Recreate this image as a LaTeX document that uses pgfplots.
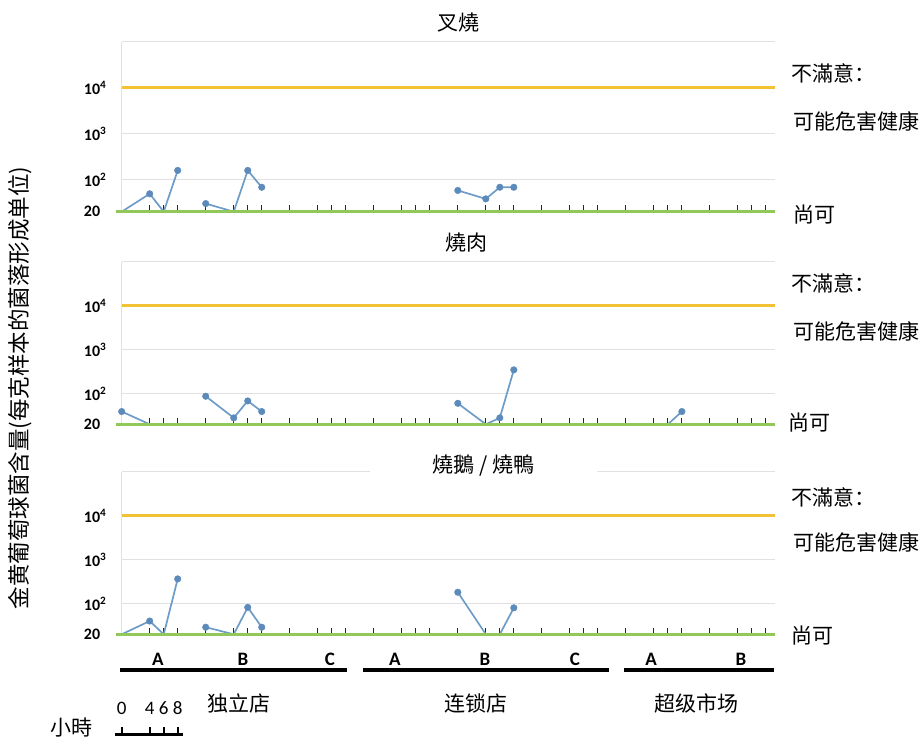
\documentclass[border=0pt]{standalone}
\usepackage{fontspec}
\setmainfont{Carlito}
\newfontfamily\cjk{Noto Sans CJK SC}
\usepackage{pgfplots}
\usepackage{pgfplotstable}
\pgfplotsset{compat=1.18}

\definecolor{lineblue}{RGB}{110,156,200}
\definecolor{markblue}{RGB}{92,138,187}
\definecolor{goldline}{RGB}{242,194,52}
\definecolor{greenline}{RGB}{146,200,90}
\definecolor{gridgray}{RGB}{225,225,225}

% ---- 叉燒 ----
\pgfplotstableread{
x y
0 20
4 49
6 20
8 158
nan nan
12 30
16 20
18 158
20 68
nan nan
48 58
52 38
54 68
56 68
}\lineA
\pgfplotstableread{
x y
4 49
8 158
12 30
18 158
20 68
48 58
52 38
54 68
56 68
}\markA
% ---- 燒肉 ----
\pgfplotstableread{
x y
0 39
4 20
nan nan
12 87
16 28
18 68
20 39
nan nan
48 60
52 20
54 28
56 346
nan nan
78 20
80 39
}\lineB
\pgfplotstableread{
x y
0 39
12 87
16 28
18 68
20 39
48 60
54 28
56 346
80 39
}\markB
% ---- 燒鵝 / 燒鴨 ----
\pgfplotstableread{
x y
0 20
4 40
6 20
8 364
nan nan
12 29
16 20
18 82
20 29
nan nan
48 181
52 20
54 20
56 80
}\lineC
\pgfplotstableread{
x y
4 40
8 364
12 29
18 82
20 29
48 181
56 80
}\markC

\newcommand\panelopts{ymode=log, scale only axis, width=653.3bp, anchor=south west,
    xmin=0, xmax=93.3, ymin=20, ymax=1e5,
    clip=false, unbounded coords=jump,
    axis line style={draw=none},
    xtick={0,4,6,8,12,16,18,20,24,28,30,32,36,40,42,44,48,52,54,56,60,64,66,68,72,76,78,80,84,88,90,92},
    xticklabels={}, xtick pos=left, tick align=inside,
    major tick length=6.5bp, xtick style={draw=black!85, line width=1bp},
    xminorticks=false, yminorticks=false,
    ytick={20,100,1000,10000,100000},
    yticklabels={\textbf{20},\textbf{10\textsuperscript{2}},\textbf{10\textsuperscript{3}},\textbf{10\textsuperscript{4}},{}},
    ytick style={draw=none},
    ymajorgrids, major grid style={gridgray, line width=1bp},
    yticklabel style={anchor=west, xshift=-38bp, inner sep=0pt, font=\fontsize{16bp}{18bp}\selectfont}}

\newcommand\panelcontent[2]{%
  \draw[gridgray, line width=1bp] (rel axis cs:0,0) -- (rel axis cs:0,1);
  \addplot[lineblue, line width=1.7bp, no marks] table {#1};
  \addplot[greenline, line width=3bp, no marks] coordinates {(-0.8,20) (93.3,20)};
  \addplot[goldline, line width=3.5bp, no marks] coordinates {(0,10000) (93.3,10000)};
  \addplot[only marks, mark=*, mark size=3.3bp, mark options={fill=markblue, draw=markblue}] table {#2};
}

\begin{document}
\begin{tikzpicture}[x=1bp, y=1bp]
\path[use as bounding box] (0,0) rectangle (923,737);

\edef\tmp{\noexpand\begin{axis}[\unexpanded\expandafter{\panelopts}, at={(121.7bp,525.3bp)}, height=170bp]}
\tmp
\panelcontent{\lineA}{\markA}
\end{axis}
\edef\tmp{\noexpand\begin{axis}[\unexpanded\expandafter{\panelopts}, at={(121.7bp,312.7bp)}, height=162.6bp]}
\tmp
\panelcontent{\lineB}{\markB}
\end{axis}
\edef\tmp{\noexpand\begin{axis}[\unexpanded\expandafter{\panelopts}, at={(121.7bp,102.7bp)}, height=162.6bp]}
\tmp
\panelcontent{\lineC}{\markC}
\end{axis}

% titles
\node[fill=white, minimum width=90bp, minimum height=37bp, inner sep=0pt, font=\cjk\fontsize{21bp}{24bp}\selectfont] at (458,714) {叉燒};
\node[fill=white, inner sep=2pt, font=\cjk\fontsize{21bp}{24bp}\selectfont] at (466,494) {燒肉};
\node[fill=white, minimum width=227bp, minimum height=30bp, inner sep=0pt, font=\cjk\fontsize{21bp}{24bp}\selectfont] at (483.5,271) {燒鵝 / 燒鴨};

% right labels
\begin{scope}[every node/.style={anchor=west, inner sep=0pt, font=\cjk\fontsize{21bp}{24bp}\selectfont}]
\node at (791,664) {不滿意：};
\node at (793,615.3) {可能危害健康};
\node at (793,522) {尚可};
\node at (791,454) {不滿意：};
\node at (793,405.3) {可能危害健康};
\node at (788,314) {尚可};
\node at (791,240) {不滿意：};
\node at (793,195) {可能危害健康};
\node at (791,101) {尚可};
\end{scope}

% y label
\node[rotate=90, inner sep=0pt, font=\cjk\fontsize{22.5bp}{24bp}\selectfont] at (20,349) {金黄葡萄球菌含量(每克样本的菌落形成单位)};

% store bars and letters
\draw[black, line width=4.5bp] (120,67) -- (347,67);
\draw[black, line width=4.5bp] (363,67) -- (609,67);
\draw[black, line width=4.5bp] (624,67) -- (774,67);
\begin{scope}[every node/.style={inner sep=0pt, font=\bfseries\fontsize{19bp}{21bp}\selectfont}]
\node at (158,78) {A};
\node at (243,78) {B};
\node at (330,78) {C};
\node at (395,78) {A};
\node at (485,78) {B};
\node at (575,78) {C};
\node at (651,78) {A};
\node at (741,78) {B};
\end{scope}

% group names
\begin{scope}[every node/.style={inner sep=0pt, font=\cjk\fontsize{21bp}{24bp}\selectfont}]
\node at (239,34) {独立店};
\node at (476,34) {连锁店};
\node at (696,34) {超级市场};
\node at (71.5,9) {小時};
\end{scope}

% hours key
\begin{scope}[every node/.style={inner sep=0pt, font=\fontsize{19bp}{21bp}\selectfont}]
\node at (121.7,29) {0};
\node at (149.7,29) {4};
\node at (163.7,29) {6};
\node at (177.7,29) {8};
\end{scope}
\draw[black, line width=3bp] (115,2) -- (183,2);
\foreach \xx in {121.7,149.7,163.7,177.7} \draw[black, line width=1.8bp] (\xx,2) -- (\xx,10);
\end{tikzpicture}
\end{document}
